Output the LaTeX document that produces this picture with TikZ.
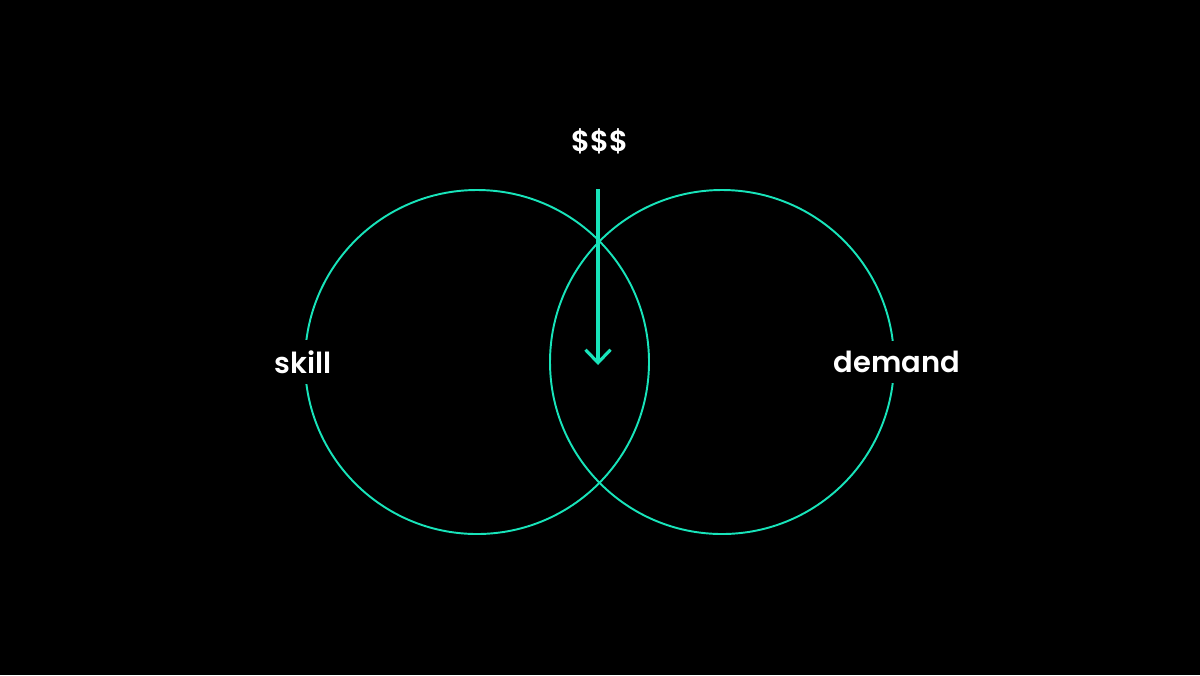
\documentclass[tikz,border=0pt]{standalone}
\usepackage{fontspec}
\setmainfont{Poppins}[BoldFont={Poppins SemiBold}]
\usetikzlibrary{arrows.meta}
\definecolor{venn}{RGB}{24,228,186}
\begin{document}
\begin{tikzpicture}[
    every node/.style={font=\fontsize{16.5}{19}\selectfont\bfseries, text=white},
    ring/.style={draw=venn, line width=1.1pt, circle, minimum size=6.88cm, inner sep=0pt},
    tag/.style={fill=black, inner xsep=3pt, inner ysep=6pt},
    flow/.style={-{Straight Barb[length=0.26cm, width=0.5cm]}, draw=venn, line width=1.8pt},
]
\fill[black] (0,0) rectangle (24,-13.5);
\node[ring] (skillset) at (9.54,-7.24) {};
\node[ring] (market) at (14.44,-7.24) {};
\node[tag] (skill) at (6.06,-7.24) {skill};
\node[tag] (demand) at (17.94,-7.24) {demand};
\node[tag] (money) at (12.0,-2.82) {\$\$\$};
\coordinate (drop) at (11.96,-3.78);
\coordinate (sweet) at (11.96,-7.3);
\draw[flow] (drop) -- (sweet);
\end{tikzpicture}
\end{document}
